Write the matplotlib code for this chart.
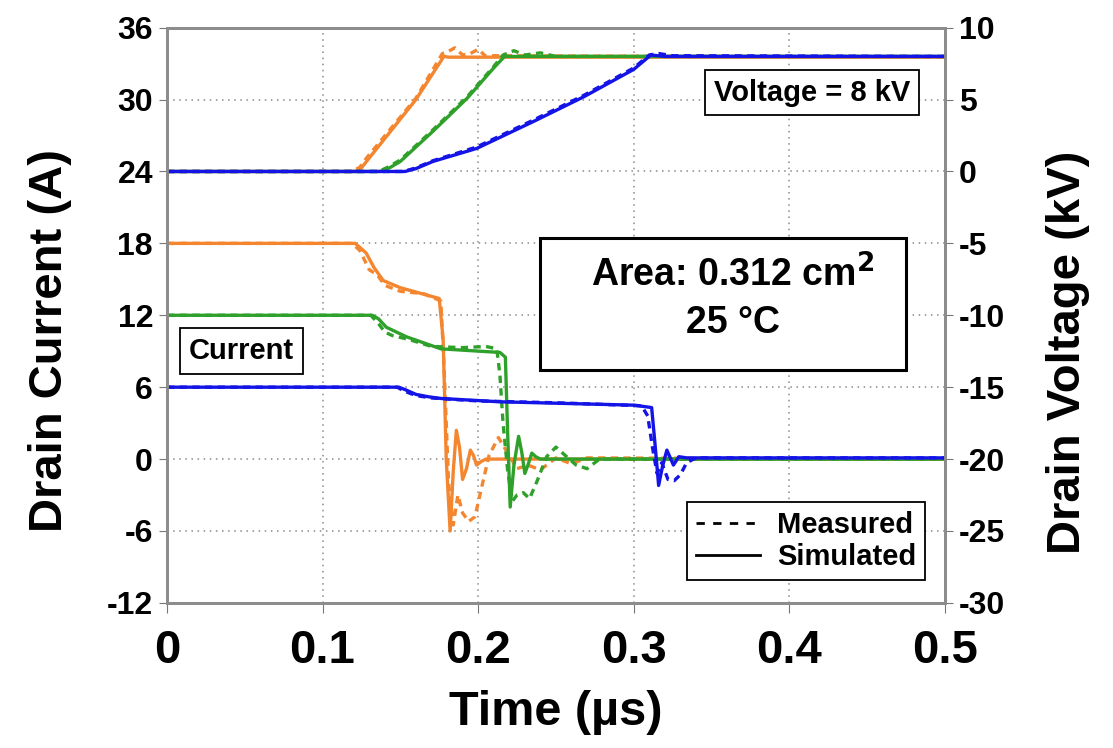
import matplotlib
matplotlib.use("Agg")
import matplotlib.pyplot as plt
from matplotlib.lines import Line2D
from matplotlib.patches import Rectangle

plt.rcParams['font.family'] = ['Liberation Sans', 'DejaVu Sans']
plt.rcParams['font.weight'] = 'bold'
plt.rcParams['axes.unicode_minus'] = False

# colours of the three devices
c_or = '#F4862F'
c_gr = '#2FA12B'
c_bl = '#1414E6'

# ---- drain voltage (kV), simulated ----
t_v_or = [0, 0.121, 0.125, 0.129, 0.160, 0.178, 0.181, 0.5]
v_or = [0, 0, 0.25, 0.8, 5.0, 8.0, 7.95, 7.95]
t_v_gr = [0, 0.137, 0.143, 0.150, 0.171, 0.193, 0.210, 0.217, 0.5]
v_gr = [0, 0, 0.25, 0.7, 2.8, 5.1, 7.2, 8.0, 8.0]
t_v_bl = [0, 0.153, 0.160, 0.171, 0.199, 0.236, 0.268, 0.300, 0.311, 0.320, 0.5]
v_bl = [0, 0, 0.2, 0.7, 1.6, 3.5, 5.2, 7.1, 8.1, 8.0, 8.0]

# ---- drain voltage (kV), measured ----
tm_v_or = [0, 0.119, 0.124, 0.128, 0.160, 0.177, 0.180, 0.185, 0.190, 0.195, 0.200, 0.205, 0.210, 0.5]
vm_or = [0, 0, 0.3, 0.9, 5.1, 8.2, 8.3, 8.6, 8.1, 8.2, 8.5, 8.0, 8.05, 7.95]
tm_v_gr = [0, 0.136, 0.142, 0.150, 0.171, 0.193, 0.210, 0.216, 0.223, 0.230, 0.240, 0.250, 0.5]
vm_gr = [0, 0, 0.3, 0.8, 2.9, 5.2, 7.3, 8.1, 8.4, 8.1, 8.25, 8.0, 8.0]
tm_v_bl = [0, 0.152, 0.160, 0.171, 0.199, 0.236, 0.268, 0.300, 0.310, 0.316, 0.325, 0.5]
vm_bl = [0, 0, 0.25, 0.75, 1.7, 3.6, 5.3, 7.2, 8.1, 8.2, 8.05, 8.0]

# ---- drain current (A), simulated ----
t_i_or = [0, 0.121, 0.128, 0.133, 0.139, 0.150, 0.175, 0.1775, 0.1795, 0.182, 0.184,
          0.186, 0.188, 0.190, 0.1925, 0.195, 0.197, 0.199, 0.202, 0.205, 0.5]
i_or = [18, 18, 17.2, 16.0, 14.9, 14.3, 13.4, 10.0, 0.0, -6.0, -1.0,
        2.4, 1.0, -1.7, -0.8, 0.75, 0.3, -0.5, -0.2, 0, 0]
t_i_gr = [0, 0.132, 0.136, 0.141, 0.154, 0.176, 0.214, 0.2175, 0.219, 0.2206, 0.223,
          0.226, 0.228, 0.230, 0.232, 0.2345, 0.237, 0.240, 0.5]
i_gr = [12, 12, 11.7, 11.0, 10.2, 9.2, 8.9, 8.5, 2.0, -4.0, -0.5,
        1.9, 0.6, -1.2, -0.5, 0.5, 0.2, 0, 0]
t_i_bl = [0, 0.149, 0.153, 0.160, 0.168, 0.176, 0.214, 0.300, 0.3115, 0.3135,
          0.316, 0.3185, 0.3213, 0.3235, 0.3255, 0.329, 0.334, 0.5]
i_bl = [6.0, 6.0, 5.8, 5.4, 5.2, 5.06, 4.78, 4.5, 4.3, 1.5,
        -2.2, -0.6, 0.75, 0.1, -0.5, 0.2, 0.1, 0.1]

# ---- drain current (A), measured ----
tm_i_or = [0, 0.119, 0.124, 0.130, 0.135, 0.140, 0.150, 0.165, 0.176, 0.178, 0.181,
           0.184, 0.187, 0.190, 0.194, 0.198, 0.202, 0.207, 0.213, 0.219, 0.225,
           0.232, 0.240, 0.250, 0.260, 0.270, 0.5]
im_or = [18, 18, 17.4, 15.8, 15.4, 14.5, 14.0, 13.8, 13.2, 8.0, -2.0,
         -5.5, -3.0, -4.5, -5.2, -4.8, -2.5, 0.3, 1.8, 0.5, -0.8,
         -0.5, -0.9, 0.1, -0.4, 0.1, 0]
tm_i_gr = [0, 0.131, 0.136, 0.140, 0.145, 0.155, 0.170, 0.190, 0.205, 0.212, 0.214,
           0.216, 0.219, 0.222, 0.225, 0.229, 0.233, 0.238, 0.244, 0.250, 0.256,
           0.263, 0.270, 0.278, 0.5]
im_gr = [12, 12, 11.3, 10.6, 10.3, 10.0, 9.4, 9.3, 9.4, 9.2, 7.0,
         3.0, -1.0, -3.5, -3.0, -2.8, -3.3, -1.8, 0.2, 1.0, 0.3,
         -0.5, -0.8, 0, 0]
tm_i_bl = [0, 0.148, 0.152, 0.160, 0.170, 0.200, 0.250, 0.305, 0.309, 0.312, 0.315,
           0.318, 0.322, 0.326, 0.330, 0.334, 0.340, 0.5]
im_bl = [6.0, 6.0, 5.7, 5.3, 5.1, 4.85, 4.7, 4.45, 3.6, 1.0, -1.2,
         -0.3, -1.7, -1.8, -1.3, -0.3, 0.1, 0.1]

x_ticks = [0, 0.1, 0.2, 0.3, 0.4, 0.5]
x_ticklabels = ['0', '0.1', '0.2', '0.3', '0.4', '0.5']
i_ticks = [-12, -6, 0, 6, 12, 18, 24, 30, 36]
v_ticks = [-30, -25, -20, -15, -10, -5, 0, 5, 10]

fig = plt.figure(figsize=(11.13, 7.48), dpi=100)
ax = fig.add_axes([0.150, 0.194, 0.699, 0.769])
ax2 = ax.twinx()

lw = 2.4
dash = (0, (2.2, 1.6))
ax.plot(tm_i_or, im_or, color=c_or, lw=lw, ls=dash)
ax.plot(t_i_or, i_or, color=c_or, lw=lw)
ax.plot(tm_i_gr, im_gr, color=c_gr, lw=lw, ls=dash)
ax.plot(t_i_gr, i_gr, color=c_gr, lw=lw)
ax.plot(tm_i_bl, im_bl, color=c_bl, lw=lw, ls=dash)
ax.plot(t_i_bl, i_bl, color=c_bl, lw=lw)

ax2.plot(tm_v_or, vm_or, color=c_or, lw=lw, ls=dash)
ax2.plot(t_v_or, v_or, color=c_or, lw=lw)
ax2.plot(tm_v_gr, vm_gr, color=c_gr, lw=lw, ls=dash)
ax2.plot(t_v_gr, v_gr, color=c_gr, lw=lw)
ax2.plot(tm_v_bl, vm_bl, color=c_bl, lw=lw, ls=dash)
ax2.plot(t_v_bl, v_bl, color=c_bl, lw=lw)

ax.set_xlim(0, 0.5)
ax.set_ylim(-12, 36)
ax2.set_ylim(-30, 10)
ax.set_xticks(x_ticks)
ax.set_xticklabels(x_ticklabels)
ax.set_yticks(i_ticks)
ax2.set_yticks(v_ticks)

ax.grid(True, color='#8a8a8a', ls=(0, (1, 3)), lw=1.1)
ax.tick_params(axis='x', labelsize=34, length=7, color='#777777', pad=12)
ax.tick_params(axis='y', labelsize=23, length=6, color='#777777', pad=4)
ax2.tick_params(axis='y', labelsize=23, length=6, color='#777777', pad=4)
for a in (ax, ax2):
    for s in a.spines.values():
        s.set_color('#8c8c8c')
        s.set_linewidth(2.0)

# axis titles placed as figure text
fig.text(0.499, 0.048, 'Time (µs)', fontsize=35, fontweight='bold',
         ha='center', va='center')
fig.text(0.045, 0.545, 'Drain Current (A)', fontsize=34, fontweight='bold',
         ha='center', va='center', rotation=90)
fig.text(0.960, 0.529, 'Drain Voltage (kV)', fontsize=34, fontweight='bold',
         ha='center', va='center', rotation=90)

box = dict(boxstyle='square,pad=0.3', fc='white', ec='black', lw=1.3)
ax2.text(0.829, 0.887, 'Voltage = 8 kV', transform=ax.transAxes, fontsize=21,
         fontweight='bold', ha='center', va='center', bbox=box, zorder=10)
ax2.text(0.096, 0.438, 'Current', transform=ax.transAxes, fontsize=21,
         fontweight='bold', ha='center', va='center', bbox=box, zorder=10)

ax2.add_patch(Rectangle((0.479, 0.405), 0.471, 0.230, transform=ax.transAxes,
                        fc='white', ec='black', lw=2.2, zorder=10))
ax2.text(0.727, 0.570, 'Area: 0.312 cm$^\\mathbf{2}$', transform=ax.transAxes,
         fontsize=27, fontweight='bold', ha='center', va='center', zorder=11)
ax2.text(0.727, 0.487, '25 °C', transform=ax.transAxes,
         fontsize=27, fontweight='bold', ha='center', va='center', zorder=11)

handles = [Line2D([], [], color='black', lw=2, ls=(0, (3, 3))),
           Line2D([], [], color='black', lw=2)]
leg = ax2.legend(handles, ['Measured', 'Simulated'], loc='lower right',
                 bbox_to_anchor=(0.975, 0.04), fontsize=21, frameon=True,
                 fancybox=False, edgecolor='black', framealpha=1,
                 handlelength=2.2, borderpad=0.3, labelspacing=0.15,
                 handletextpad=0.6, borderaxespad=0)
leg.get_frame().set_linewidth(1.3)
leg.set_zorder(12)

fig.savefig('out.png', dpi=100)
